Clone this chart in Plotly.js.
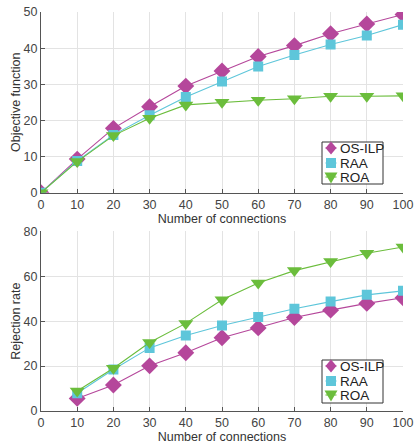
<!DOCTYPE html>
<html>
<head>
<meta charset="utf-8">
<script src="https://cdn.plot.ly/plotly-3.0.1.min.js"></script>
<style>
  html, body { margin: 0; padding: 0; background: #fff; }
  #chart { width: 414px; height: 444px; }
</style>
</head>
<body>
<div id="chart"></div>
<script>
// Number of connections
const connTop = [0, 10, 20, 30, 40, 50, 60, 70, 80, 90, 100];
const connBottom = [10, 20, 30, 40, 50, 60, 70, 80, 90, 100];

// Objective function per method
const objOsIlp = [0, 9.3, 17.8, 23.8, 29.5, 33.7, 37.7, 40.7, 44.0, 46.7, 49.3];
const objRaa   = [0, 8.8, 16.0, 21.4, 26.5, 30.8, 34.9, 38.1, 41.0, 43.5, 46.5];
const objRoa   = [0, 8.6, 15.8, 20.6, 24.3, 25.0, 25.6, 26.0, 26.7, 26.7, 26.8];

// Rejection rate per method
const rejOsIlp = [5.6, 11.6, 20.1, 25.9, 32.6, 37.0, 41.6, 44.9, 47.9, 50.4];
const rejRaa   = [7.9, 18.5, 28.1, 33.6, 38.1, 41.8, 45.5, 48.7, 51.7, 53.5];
const rejRoa   = [8.9, 19.0, 30.5, 39.0, 49.5, 57.0, 62.5, 66.5, 70.2, 73.0];

const methodNames = ['OS-ILP', 'RAA', 'ROA'];

const styles = [
  { color: '#b5479b', symbol: 'diamond', size: 13,
    glyph: 'M0,6.5 L5.5,0 L0,-6.5 L-5.5,0 Z' },
  { color: '#5ec6da', symbol: 'square', size: 10,
    glyph: 'M-5,5 L5,5 L5,-5 L-5,-5 Z' },
  { color: '#6bbd3c', symbol: 'triangle-down', size: 13,
    glyph: 'M-6.5,4.5 L6.5,4.5 L0,-6.5 Z' }
];

function series(x, y, i, xa, ya) {
  const s = styles[i];
  return {
    x: x, y: y, type: 'scatter', mode: 'lines+markers',
    name: methodNames[i], showlegend: false,
    xaxis: xa, yaxis: ya,
    line: { color: s.color, width: 1.1 },
    marker: { symbol: s.symbol, size: s.size, color: s.color, line: { width: 0 } }
  };
}

const data = [
  series(connTop, objOsIlp, 0, 'x', 'y'),
  series(connTop, objRaa, 1, 'x', 'y'),
  series(connTop, objRoa, 2, 'x', 'y'),
  series(connBottom, rejOsIlp, 0, 'x2', 'y2'),
  series(connBottom, rejRaa, 1, 'x2', 'y2'),
  series(connBottom, rejRoa, 2, 'x2', 'y2')
];

const W = 414, H = 444;
const M = { l: 41, r: 11, t: 12, b: 33 };
const plotW = W - M.l - M.r, plotH = H - M.t - M.b;
const px = v => (v - M.l) / plotW;        // page pixel -> paper x
const py = v => (H - M.b - v) / plotH;    // page pixel -> paper y

const baseFont = 'Liberation Sans, Arial, Helvetica, sans-serif';
const tickFont = { family: baseFont, size: 12.5, color: '#444' };
const titleFont = { family: baseFont, size: 12.5, color: '#333' };

// Boxed legend drawn with shapes and annotations
const shapes = [];
const annotations = [];
function boxedLegend(left, top, right, bottom, rowYs) {
  shapes.push({
    type: 'rect', xref: 'paper', yref: 'paper',
    x0: px(left), x1: px(right), y0: py(bottom), y1: py(top),
    line: { color: '#333', width: 1 }, fillcolor: '#fff', layer: 'above'
  });
  methodNames.forEach((name, i) => {
    const s = styles[i];
    const cy = py(rowYs[i]);
    shapes.push({
      type: 'line', xref: 'paper', yref: 'paper',
      xsizemode: 'pixel', xanchor: px(left + 9), x0: -5.5, x1: 5.5,
      y0: cy, y1: cy, line: { color: s.color, width: 1.1 }, layer: 'above'
    });
    shapes.push({
      type: 'path', xref: 'paper', yref: 'paper',
      xsizemode: 'pixel', ysizemode: 'pixel',
      xanchor: px(left + 9), yanchor: cy,
      path: s.glyph, fillcolor: s.color, line: { width: 0 }, layer: 'above'
    });
    annotations.push({
      xref: 'paper', yref: 'paper', x: px(left + 15.5), y: cy,
      xanchor: 'left', yanchor: 'middle', showarrow: false,
      text: name, font: { family: baseFont, size: 13.5, color: '#222' }
    });
  });
}
boxedLegend(322, 142, 383, 184, [148, 163, 177]);
boxedLegend(322, 360, 383, 403, [366, 381, 395]);

const xCommon = {
  range: [0, 100], dtick: 10, tick0: 0,
  showgrid: true, gridcolor: '#e3e3e3', gridwidth: 1,
  zeroline: false, showline: true, linecolor: '#555', linewidth: 1,
  ticks: 'inside', ticklen: 4, tickcolor: '#555',
  tickfont: tickFont,
  title: { text: 'Number of connections', font: titleFont, standoff: 2 }
};
const yCommon = {
  showgrid: true, gridcolor: '#e3e3e3', gridwidth: 1,
  zeroline: false, showline: true, linecolor: '#555', linewidth: 1,
  ticks: 'inside', ticklen: 4, tickcolor: '#555',
  tickfont: tickFont
};

const layout = {
  width: W, height: H,
  margin: M,
  paper_bgcolor: '#fff', plot_bgcolor: '#fff',
  showlegend: false,
  xaxis: Object.assign({}, xCommon, { anchor: 'y' }),
  yaxis: Object.assign({}, yCommon, {
    domain: [py(192.7), 1], range: [0, 50], dtick: 10, anchor: 'x',
    title: { text: 'Objective function', font: titleFont, standoff: 0 }
  }),
  xaxis2: Object.assign({}, xCommon, { anchor: 'y2' }),
  yaxis2: Object.assign({}, yCommon, {
    domain: [0, py(231.3)], range: [0, 80], dtick: 20, anchor: 'x2',
    title: { text: 'Rejection rate', font: titleFont, standoff: 0 }
  }),
  shapes: shapes,
  annotations: annotations
};

Plotly.newPlot('chart', data, layout, { displayModeBar: false, staticPlot: true });
</script>
</body>
</html>
